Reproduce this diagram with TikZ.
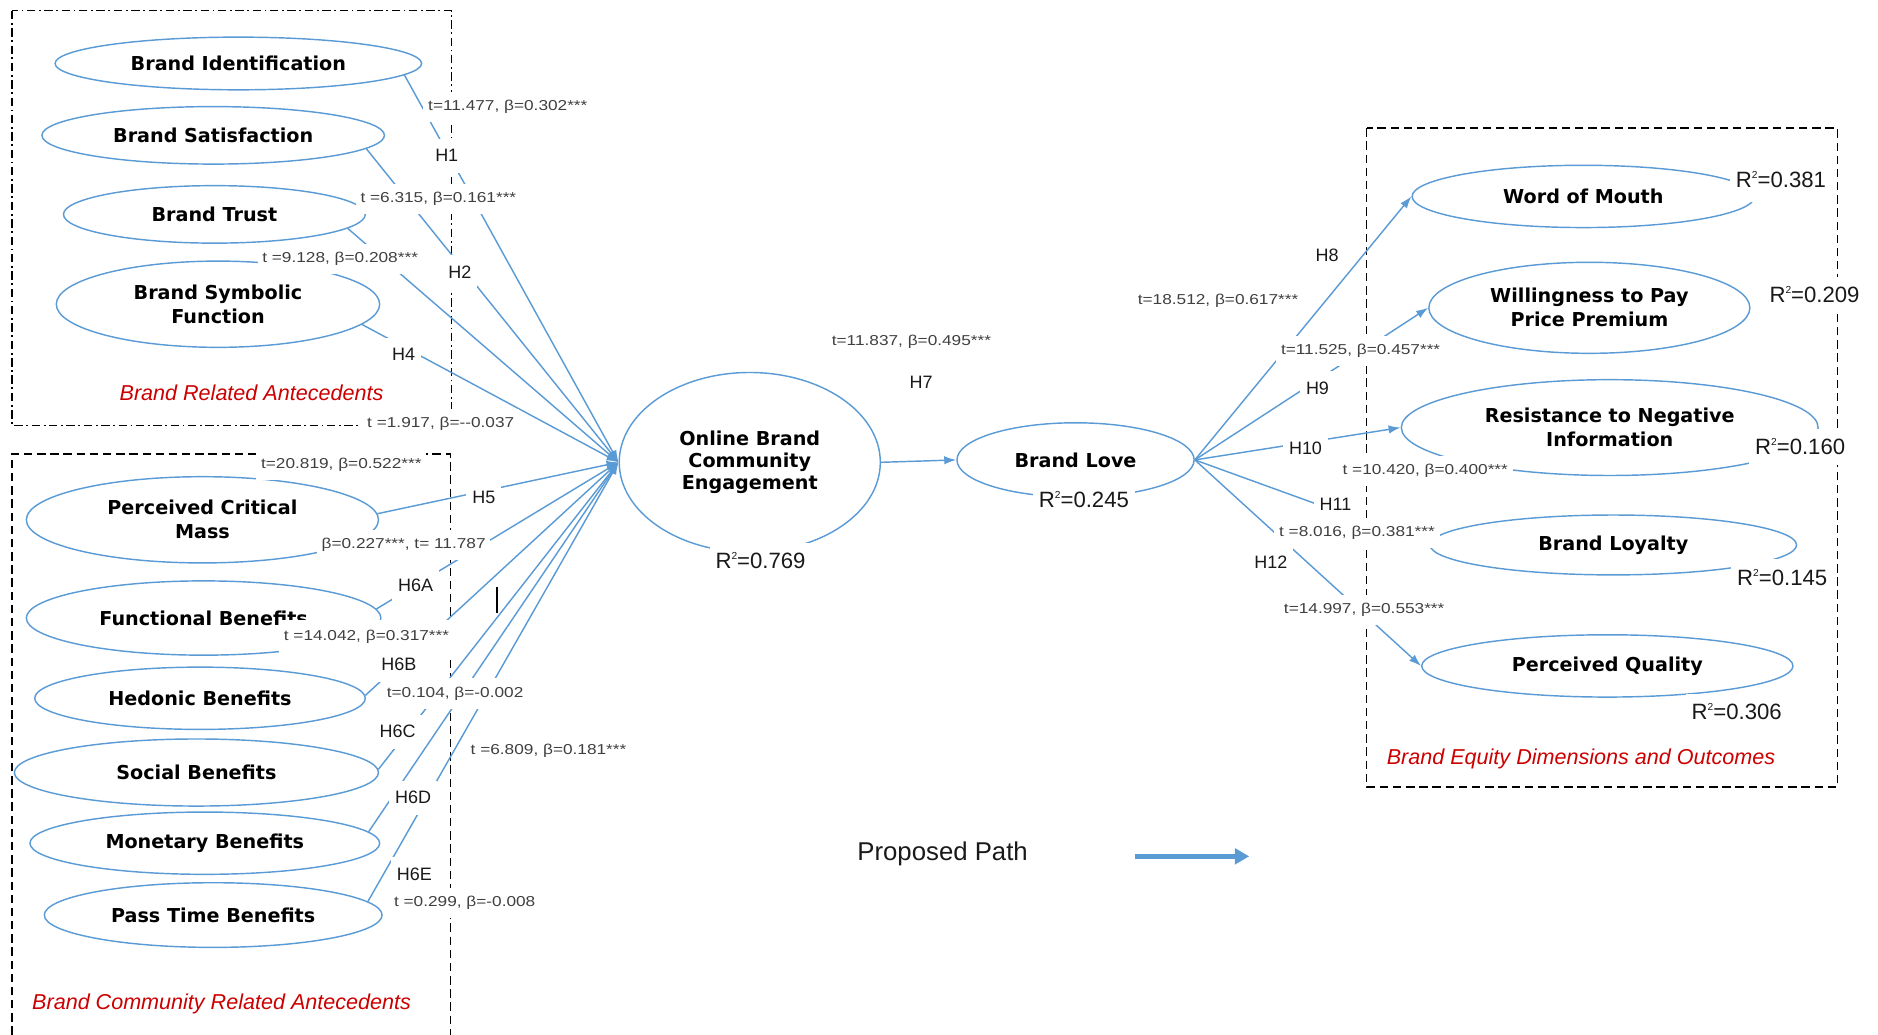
\documentclass[tikz,border=0pt]{standalone}
\usepackage{fontspec}
\setmainfont{Liberation Sans}
\newfontfamily\bfam{DejaVu Sans}
\newfontfamily\statfont[FakeStretch=1.2]{Liberation Sans}
\usetikzlibrary{shapes.geometric,arrows.meta}
\definecolor{lblue}{RGB}{91,155,213}
\definecolor{lred}{RGB}{204,0,0}
\newcommand\rtwo{R\raisebox{0.8ex}{\fontsize{8.5}{8.5}\selectfont 2}}
\begin{document}
\begin{tikzpicture}[x=1pt,y=-1pt,
  cons/.style={ellipse, draw=lblue, line width=1.2pt, inner sep=0pt, align=center,
    font=\bfam\bfseries\fontsize{16}{20}\selectfont},
  link/.style={draw=lblue, line width=1.2pt, -{Latex[length=10pt,width=7pt]}},
  stat/.style={fill=white, inner xsep=4pt, inner ysep=7pt, text=black!75,
    font=\statfont\fontsize{12}{12}\selectfont},
  hyp/.style={fill=white, inner xsep=5pt, inner ysep=9pt, text=black!90, font=\fontsize{15}{15}\selectfont},
  rsq/.style={fill=white, inner xsep=5pt, inner ysep=8pt, text=black!90, font=\fontsize{18.5}{18.5}\selectfont},
  grp/.style={text=lred, font=\itshape\fontsize{18}{18}\selectfont},
  boxa/.style={draw=black, line width=1.1pt, dash pattern=on 7pt off 3pt on 1.5pt off 3pt},
  boxb/.style={draw=black, line width=1.1pt, dash pattern=on 7pt off 4pt}
]
\useasboundingbox (0,0) rectangle (1568,864);

% group boxes
\draw[boxa] (10,9) rectangle (377,355);
\draw[boxb] (10,864) -- (10,379) -- (376,379) -- (376,864);
\draw[boxb] (1141,107) rectangle (1534,657);

% constructs
\node[cons, minimum width=306pt, minimum height=44pt] (bi) at (199,53) {Brand Identification};
\node[cons, minimum width=286pt, minimum height=48pt] (bs) at (178,113) {Brand Satisfaction};
\node[cons, minimum width=252pt, minimum height=48pt] (bt) at (179,179) {Brand Trust};
\node[cons, minimum width=270pt, minimum height=72pt] (bsf) at (182,254) {Brand Symbolic\\Function};
\node[cons, minimum width=294pt, minimum height=72pt] (pcm) at (169,434) {Perceived Critical\\Mass};
\node[cons, minimum width=296pt, minimum height=62pt] (fb) at (170,516) {Functional Benefits};
\node[cons, minimum width=276pt, minimum height=52pt] (hb) at (167,583) {Hedonic Benefits};
\node[cons, minimum width=304pt, minimum height=56pt] (sb) at (164,645) {Social Benefits};
\node[cons, minimum width=292pt, minimum height=52pt] (mb) at (171,704) {Monetary Benefits};
\node[cons, minimum width=282pt, minimum height=54pt] (ptb) at (178,764) {Pass Time Benefits};

\node[cons, minimum width=218pt, minimum height=150pt, font=\bfam\bfseries\fontsize{16}{18}\selectfont] (obce) at (626,386) {Online Brand\\Community\\Engagement};
\node[cons, minimum width=198pt, minimum height=62pt] (bl) at (898,384) {Brand Love};

\node[cons, minimum width=286pt, minimum height=52pt] (wom) at (1322,164) {Word of Mouth};
\node[cons, minimum width=268pt, minimum height=76pt] (wtp) at (1327,257) {Willingness to Pay\\Price Premium};
\node[cons, minimum width=348pt, minimum height=80pt] (rni) at (1344,357) {Resistance to Negative\\Information};
\node[cons, minimum width=306pt, minimum height=50pt] (blo) at (1347,455) {Brand Loyalty};
\node[cons, minimum width=310pt, minimum height=52pt] (pq) at (1342,556) {Perceived Quality};

% paths into engagement
\draw[link] (bi.-4) -- (obce.west);
\draw[link] (bs.-5) -- (obce.west);
\draw[link] (bt.-6) -- (obce.west);
\draw[link] (bsf.-8) -- (obce.west);
\draw[link] (pcm.2) -- (obce.west);
\draw[link] (fb.3) -- (obce.west);
\draw[link] (hb.1) -- (obce.west);
\draw[link] (sb.1) -- (obce.west);
\draw[link] (mb.4) -- (obce.west);
\draw[link] (ptb.5) -- (obce.west);

% engagement to love
\draw[link] (obce.east) -- (bl.west);

% love to outcomes
\draw[link] (bl.east) -- (wom.west);
\draw[link] (bl.east) -- (wtp.west);
\draw[link] (bl.east) -- (rni.west);
\draw[link] (bl.east) -- (blo.west);
\draw[link] (bl.east) -- (pq.west);

% small black mark
\coordinate (m1) at (415,490);
\coordinate (m2) at (415,512);
\draw[black, line width=1.2pt] (m1) -- (m2);

% path labels (left)
\node[stat] (s1) at (424,89) {t=11.477, β=0.302***};
\node[hyp] (h1) at (373,130) {H1};
\node[stat] (s2) at (366,166) {t =6.315, β=0.161***};
\node[stat] (s3) at (284,216) {t =9.128, β=0.208***};
\node[hyp] (h2) at (384,227) {H2};
\node[hyp] (h4) at (337,296) {H4};
\node[stat] (s4) at (368,354) {t =1.917, β=-{}-0.037};
\node[stat] (s5) at (285,388) {t=20.819, β=0.522***};
\node[hyp] (h5) at (404,415) {H5};
\node[stat] (s6) at (337,455) {β=0.227***, t= 11.787};
\node[hyp] (h6a) at (347,489) {H6A};
\node[stat, inner ysep=9pt] (s7) at (306,532) {t =14.042, β=0.317***};
\node[hyp] (h6b) at (333,555) {H6B};
\node[stat] (s8) at (380,579) {t=0.104, β=-0.002};
\node[hyp] (h6c) at (332,611) {H6C};
\node[stat] (s9) at (458,627) {t =6.809, β=0.181***};
\node[hyp] (h6d) at (345,666) {H6D};
\node[hyp] (h6e) at (346,730) {H6E};
\node[stat] (s10) at (388,754) {t =0.299, β=-0.008};

% middle labels
\node[stat] (s11) at (761,285) {t=11.837, β=0.495***};
\node[hyp] (h7) at (769,319) {H7};
\node[rsq] (r1) at (635,468) {\rtwo=0.769};
\node[rsq] (r2) at (905,417) {\rtwo=0.245};

% right labels
\node[stat] (s12) at (1017,251) {t=18.512, β=0.617***};
\node[hyp] (h8) at (1108,213) {H8};
\node[stat] (s13) at (1136,293) {t=11.525, β=0.457***};
\node[hyp] (h9) at (1100,324) {H9};
\node[hyp] (h10) at (1090,374) {H10};
\node[stat] (s14) at (1190,393) {t =10.420, β=0.400***};
\node[hyp] (h11) at (1115,421) {H11};
\node[stat] (s15) at (1133,445) {t =8.016, β=0.381***};
\node[hyp] (h12) at (1061,469) {H12};
\node[stat] (s16) at (1139,509) {t=14.997, β=0.553***};

\node[rsq, inner ysep=12pt] (r3) at (1487,150) {\rtwo=0.381};
\node[rsq] (r4) at (1515,246) {\rtwo=0.209};
\node[rsq] (r5) at (1503,373) {\rtwo=0.160};
\node[rsq] (r6) at (1488,482) {\rtwo=0.145};
\node[rsq] (r7) at (1450,594) {\rtwo=0.306};

% group captions
\node[grp] (g1) at (210,328) {Brand Related Antecedents};
\node[grp] (g2) at (185,838) {Brand Community Related Antecedents};
\node[grp] (g3) at (1320,634) {Brand Equity Dimensions and Outcomes};

% legend
\node[text=black!90, font=\fontsize{21.5}{22}\selectfont] (pp) at (787,713) {Proposed Path};
\coordinate (pa) at (948,715);
\coordinate (pb) at (1043,715);
\draw[draw=lblue, line width=4pt, -{Triangle[length=12pt,width=13pt]}] (pa) -- (pb);
\end{tikzpicture}
\end{document}
